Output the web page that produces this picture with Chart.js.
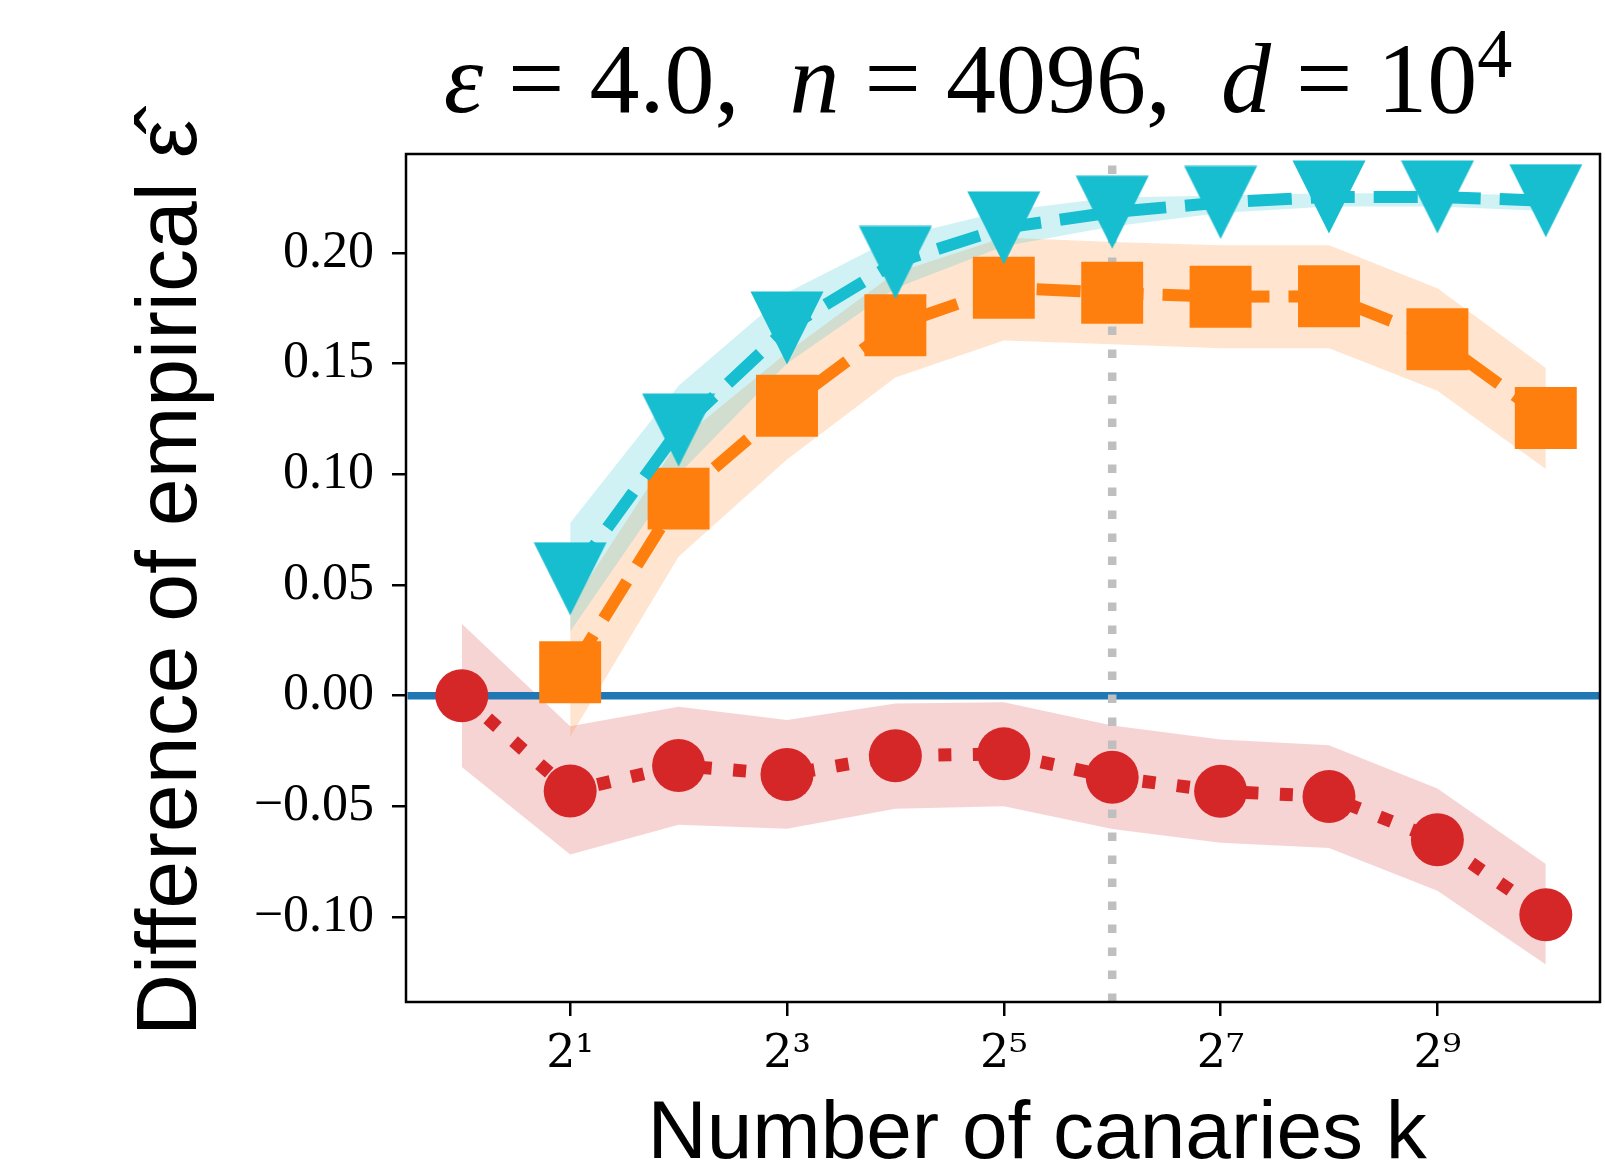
<!DOCTYPE html>
<html>
<head>
<meta charset="utf-8">
<script src="https://cdn.jsdelivr.net/npm/chart.js@4.4.0/dist/chart.umd.min.js"></script>
<style>
  html, body { margin: 0; padding: 0; background: #fff; }
  #wrap { width: 1605px; height: 1170px; }
</style>
</head>
<body>
<div id="wrap"><canvas id="grafico"></canvas></div>
<script>
// Number of canaries k
const kAll = [1, 2, 4, 8, 16, 32, 64, 128, 256, 512, 1024];
const kFrom2 = [2, 4, 8, 16, 32, 64, 128, 256, 512, 1024];

// cyan triangles (mean and band)
const triMean = [0.0528, 0.1200, 0.1661, 0.1957, 0.2113, 0.2184, 0.2228, 0.2253, 0.2253, 0.2236];
const triLow  = [0.029, 0.100, 0.150, 0.184, 0.203, 0.212, 0.218, 0.221, 0.221, 0.219];
const triHigh = [0.078, 0.140, 0.182, 0.207, 0.219, 0.225, 0.226, 0.227, 0.227, 0.226];

// orange squares
const sqMean = [0.0106, 0.0890, 0.1310, 0.1673, 0.1843, 0.1820, 0.1802, 0.1804, 0.1610, 0.1254];
const sqLow  = [-0.0186, 0.0627, 0.1067, 0.1437, 0.1604, 0.1587, 0.1569, 0.1569, 0.1378, 0.1024];
const sqHigh = [0.040, 0.115, 0.155, 0.191, 0.207, 0.205, 0.2035, 0.2035, 0.184, 0.148];

// red circles
const circMean = [0, -0.0431, -0.0316, -0.0356, -0.0272, -0.0263, -0.0369, -0.0432, -0.0456, -0.0651, -0.0990];
const circLow  = [-0.0322, -0.0718, -0.0583, -0.0601, -0.0511, -0.0500, -0.0603, -0.0665, -0.0688, -0.0881, -0.1215];
const circHigh = [0.0325, -0.0138, -0.0050, -0.0110, -0.0035, -0.0030, -0.0135, -0.0198, -0.0224, -0.0420, -0.0760];

// reference lines
const refK = 64;
const zeroY = 0;

// axes
const xTicks = [2, 8, 32, 128, 512];
const xTickLabels = ['2¹', '2³', '2⁵', '2⁷', '2⁹'];
const yTicks = [-0.10, -0.05, 0, 0.05, 0.10, 0.15, 0.20];
const yTickLabels = ['−0.10', '−0.05', '0.00', '0.05', '0.10', '0.15', '0.20'];
const xMin = Math.pow(2, -0.5), xMax = Math.pow(2, 10.5);
const yMin = -0.1384, yMax = 0.2447;

// title pieces: [text, italic]
const titleParts = [['ε', true], [' = 4.0,  ', false], ['n', true], [' = 4096,  ', false], ['d', true], [' = 10', false]];
const titleSup = '4';

const serif = "'Liberation Serif', 'DejaVu Serif', serif";
const sans = "'Liberation Sans', Arial, sans-serif";

const pts = (xs, ys) => xs.map((x, i) => ({ x: x, y: ys[i] }));

// matplotlib-like downward triangle
const tri = document.createElement('canvas');
tri.width = 74; tri.height = 74;
(function () {
    const c = tri.getContext('2d');
    c.fillStyle = '#17becf';
    c.beginPath();
    c.moveTo(0.5, 0.5); c.lineTo(73.5, 0.5); c.lineTo(37, 73.5);
    c.closePath();
    c.fill();
})();

const titlePlugin = {
    id: 'mathTitle',
    afterDraw(chart) {
        const ctx = chart.ctx;
        const size = 100;
        ctx.save();
        ctx.fillStyle = '#000';
        ctx.textBaseline = 'alphabetic';
        const parts = titleParts.map(([t, it]) => ({ t: t, font: (it ? 'italic ' : '') + size + 'px ' + serif }));
        parts.push({ t: titleSup, font: Math.round(size * 0.7) + 'px ' + serif, sup: true });
        let total = 0;
        parts.forEach(p => { ctx.font = p.font; p.w = ctx.measureText(p.t).width; total += p.w; });
        let x = 978 - total / 2;
        parts.forEach(p => {
            ctx.font = p.font;
            ctx.fillText(p.t, x, p.sup ? 77 : 112);
            x += p.w;
        });
        ctx.restore();
    }
};

const framePlugin = {
    id: 'frame',
    afterDatasetsDraw(chart) {
        const a = chart.chartArea, ctx = chart.ctx;
        ctx.save();
        ctx.strokeStyle = '#000';
        ctx.lineWidth = 2.5;
        ctx.strokeRect(a.left, a.top, a.right - a.left, a.bottom - a.top);
        ctx.restore();
    }
};

const band = (color) => ({ borderWidth: 0, borderColor: 'rgba(0,0,0,0)', pointRadius: 0, backgroundColor: color });

new Chart(document.getElementById('grafico'), {
    type: 'line',
    data: {
        datasets: [
            { data: pts(kFrom2, triMean), borderColor: '#17becf', borderWidth: 12, borderDash: [44, 19],
              pointStyle: tri, pointRadius: 37, pointBackgroundColor: '#17becf', pointBorderWidth: 0, fill: false },
            { data: pts(kFrom2, sqMean), borderColor: '#ff7f0e', borderWidth: 12, borderDash: [44, 19],
              pointStyle: 'rect', pointRadius: 43.8, pointBackgroundColor: '#ff7f0e', pointBorderWidth: 0, fill: false },
            { data: pts(kAll, circMean), borderColor: '#d62728', borderWidth: 13, borderDash: [13, 21.5],
              pointStyle: 'circle', pointRadius: 26.5, pointBackgroundColor: '#d62728', pointBorderWidth: 0, fill: false },
            { data: [{ x: refK, y: yMin }, { x: refK, y: yMax }], borderColor: '#bfbfbf', borderWidth: 8.5,
              borderDash: [8.5, 14.5], pointRadius: 0, fill: false },
            { data: [{ x: xMin, y: zeroY }, { x: xMax, y: zeroY }], borderColor: '#1f77b4', borderWidth: 7.5,
              pointRadius: 0, fill: false },
            Object.assign({ data: pts(kFrom2, triHigh), fill: false }, band('rgba(0,0,0,0)')),
            Object.assign({ data: pts(kFrom2, triLow), fill: '-1' }, band('rgba(23,190,207,0.2)')),
            Object.assign({ data: pts(kFrom2, sqHigh), fill: false }, band('rgba(0,0,0,0)')),
            Object.assign({ data: pts(kFrom2, sqLow), fill: '-1' }, band('rgba(255,127,14,0.2)')),
            Object.assign({ data: pts(kAll, circHigh), fill: false }, band('rgba(0,0,0,0)')),
            Object.assign({ data: pts(kAll, circLow), fill: '-1' }, band('rgba(214,39,40,0.2)'))
        ]
    },
    options: {
        responsive: true,
        maintainAspectRatio: false,
        animation: false,
        events: [],
        layout: { autoPadding: false, padding: { top: 154, right: 5, left: 0, bottom: 0 } },
        plugins: {
            legend: { display: false },
            title: { display: false },
            tooltip: { enabled: false }
        },
        scales: {
            x: {
                type: 'logarithmic',
                min: xMin,
                max: xMax,
                afterBuildTicks: s => { s.ticks = xTicks.map(v => ({ value: v })); },
                afterFit: s => { s.height = 168; s.paddingLeft = 0; s.paddingRight = 0; },
                ticks: {
                    callback: v => xTickLabels[xTicks.indexOf(v)],
                    font: { family: "'DejaVu Serif', serif", size: 46 },
                    color: '#000',
                    padding: 11,
                    maxRotation: 0,
                    autoSkip: false
                },
                grid: { drawOnChartArea: false, color: '#000', lineWidth: 2.5, tickLength: 14 },
                border: { display: false },
                title: {
                    display: true,
                    text: '   Number of canaries k',
                    color: '#000',
                    font: { family: sans, size: 82, lineHeight: 1 },
                    padding: { top: 0, bottom: -6 }
                }
            },
            y: {
                min: yMin,
                max: yMax,
                afterBuildTicks: s => { s.ticks = yTicks.map(v => ({ value: v })); },
                afterFit: s => { s.width = 406; s.paddingTop = 0; s.paddingBottom = 0; },
                ticks: {
                    callback: v => yTickLabels[yTicks.findIndex(t => Math.abs(t - v) < 1e-9)],
                    font: { family: serif, size: 52 },
                    color: '#000',
                    padding: 18
                },
                grid: { drawOnChartArea: false, color: '#000', lineWidth: 2.5, tickLength: 14 },
                border: { display: false },
                title: {
                    display: true,
                    text: 'Difference of empirical ε̂',
                    color: '#000',
                    font: { family: sans, size: 86, lineHeight: 1 },
                    padding: { top: 129, bottom: 0 }
                }
            }
        }
    },
    plugins: [titlePlugin, framePlugin]
});
</script>
</body>
</html>
